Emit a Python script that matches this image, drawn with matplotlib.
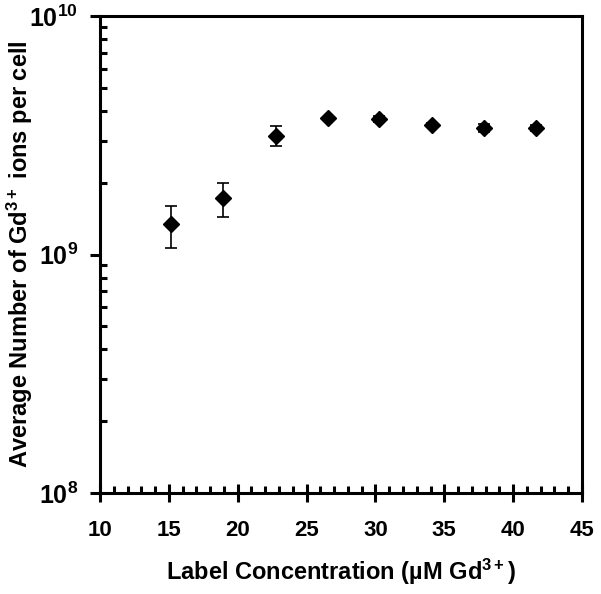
import numpy as np
import matplotlib
matplotlib.use('Agg')
import matplotlib.pyplot as plt
from matplotlib.ticker import LogLocator, MultipleLocator, FixedFormatter, FixedLocator

plt.rcParams['font.family'] = ['Liberation Sans', 'DejaVu Sans']
plt.rcParams['font.weight'] = 'bold'
plt.rcParams['mathtext.fontset'] = 'custom'
plt.rcParams['mathtext.rm'] = 'Liberation Sans:bold'
plt.rcParams['mathtext.bf'] = 'Liberation Sans:bold'
plt.rcParams['mathtext.it'] = 'Liberation Sans:bold'
plt.rcParams['mathtext.default'] = 'bf'

# data
conc = [15.16, 18.96, 22.76, 26.53, 30.29, 34.11, 37.86, 41.66]
ions = [1.34e9, 1.72e9, 3.15e9, 3.72e9, 3.69e9, 3.49e9, 3.38e9, 3.38e9]
err_up = [0.25e9, 0.27e9, 0.31e9, 0.07e9, 0.11e9, 0.07e9, 0.13e9, 0.10e9]
err_down = [0.28e9, 0.29e9, 0.30e9, 0.07e9, 0.11e9, 0.07e9, 0.13e9, 0.10e9]

ytick_vals = [1e8, 1e9, 1e10]
ytick_labels = [r'$10^{8}$', r'$10^{9}$', r'$10^{10}$']
xtick_vals = [10, 15, 20, 25, 30, 35, 40, 45]

fig = plt.figure(figsize=(6.01, 5.94), dpi=100)
ax = fig.add_axes([0.1664, 0.170, 0.802, 0.803])

ax.errorbar(conc, ions, yerr=[err_down, err_up], fmt='D', color='black',
            markersize=8, ecolor='black', elinewidth=1.2, capsize=4, capthick=1.2)

ax.set_yscale('log')
ax.set_xlim(10, 45)
ax.set_ylim(1e8, 1e10)

ax.yaxis.set_major_locator(FixedLocator(ytick_vals))
ax.yaxis.set_major_formatter(FixedFormatter(ytick_labels))
ax.yaxis.set_minor_locator(LogLocator(base=10, subs=np.arange(2, 10)))
ax.yaxis.set_minor_formatter(plt.NullFormatter())
ax.set_xticks(xtick_vals)
ax.xaxis.set_minor_locator(MultipleLocator(1))

for s in ax.spines.values():
    s.set_linewidth(2.2)

ax.tick_params(axis='y', which='major', direction='out', length=7, width=2.2,
               labelsize=18, pad=9)
ax.tick_params(axis='y', which='minor', direction='in', length=5, width=2.2)
ax.tick_params(axis='x', which='major', direction='inout', length=13, width=2.2,
               labelsize=16, pad=13)
ax.tick_params(axis='x', which='minor', direction='in', length=5, width=2.2)

for lab in ax.get_xticklabels():
    lab.set_fontweight('bold')

ax.set_xlabel(r'Label Concentration (µM Gd$^{3+}$)', fontsize=17, fontweight='bold')
ax.set_ylabel(r'Average Number of Gd$^{3+}$ ions per cell', fontsize=17,
              fontweight='bold')
ax.xaxis.set_label_coords(0.5, -0.134)
ax.yaxis.set_label_coords(-0.135, 0.5)

fig.savefig('out.png', dpi=100)
